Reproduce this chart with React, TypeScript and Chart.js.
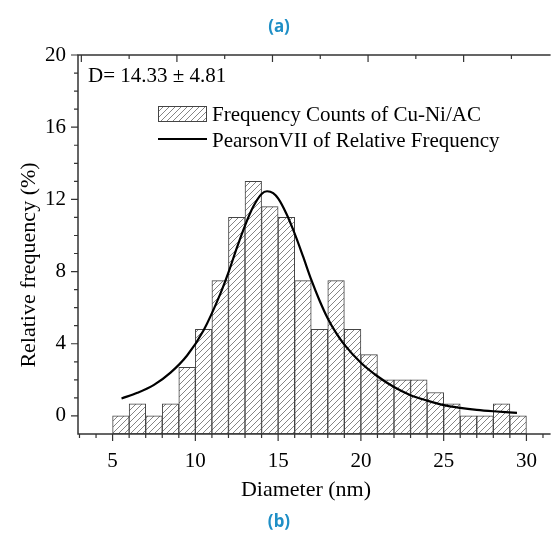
import React, { useEffect, useRef } from 'react';
import { Chart, registerables } from 'chart.js';

Chart.register(...registerables);

// ---- data ----
const binStarts = [5, 6, 7, 8, 9, 10, 11, 12, 13, 14, 15, 16, 17, 18, 19, 20, 21, 22, 23, 24, 25, 26, 27, 28, 29];
const relFreq = [0, 0.67, 0, 0.67, 2.7, 4.8, 7.5, 11, 13, 11.6, 11, 7.5, 4.8, 7.5, 4.8, 3.4, 2, 2, 2, 1.3, 0.67, 0, 0, 0.67, 0];

const curveX = [5.54, 6.5, 7.5, 8.5, 9.5, 10.5, 11.5, 12, 12.5, 13, 13.5, 14, 14.33, 14.7, 15, 15.5, 16, 16.5, 17, 17.5, 18, 18.5, 19, 20, 21, 22, 23, 24, 25, 26, 27, 28, 29.43];
const curveY = [0.97, 1.28, 1.72, 2.4, 3.35, 4.75, 6.75, 7.95, 9.3, 10.55, 11.6, 12.3, 12.45, 12.35, 12.05, 11.2, 10.1, 8.85, 7.55, 6.4, 5.4, 4.6, 3.95, 2.95, 2.2, 1.6, 1.15, 0.85, 0.6, 0.45, 0.34, 0.26, 0.17];

const xTickLabels = [5, 10, 15, 20, 25, 30];
const yTickLabels = [0, 4, 8, 12, 16, 20];
const xMinorTicks = [3, 4, 5, 6, 7, 8, 9, 10, 11, 12, 13, 14, 15, 16, 17, 18, 19, 20, 21, 22, 23, 24, 25, 26, 27, 28, 29, 30, 31];
const yMinorTicks = [0, 1, 2, 3, 4, 5, 6, 7, 8, 9, 10, 11, 12, 13, 14, 15, 16, 17, 18, 19, 20];
const topTicks = [0, 1, 2, 3, 4, 5, 6, 7, 8, 9];

const barLabel = 'Frequency Counts of Cu-Ni/AC';
const lineLabel = 'PearsonVII of Relative Frequency';
const statText = 'D= 14.33 \u00B1 4.81';
const xTitle = 'Diameter (nm)';
const yTitle = 'Relative frequency (%)';
const topCaption = '(a)';
const bottomCaption = '(b)';

const SERIF = '"Liberation Serif", "Times New Roman", serif';
const AXIS_COLOR = '#333';
const CAPTION_COLOR = '#1f8fc6';

function makeHatch(ctx: CanvasRenderingContext2D): CanvasPattern | string {
  const c = document.createElement('canvas');
  c.width = 6;
  c.height = 6;
  const g = c.getContext('2d');
  if (!g) return '#fff';
  g.fillStyle = '#fff';
  g.fillRect(0, 0, 6, 6);
  g.strokeStyle = '#666';
  g.lineWidth = 0.8;
  g.beginPath();
  g.moveTo(0, 6);
  g.lineTo(6, 0);
  g.moveTo(-1, 1);
  g.lineTo(1, -1);
  g.moveTo(5, 7);
  g.lineTo(7, 5);
  g.stroke();
  return ctx.createPattern(c, 'repeat') || '#fff';
}

export default function App() {
  const ref = useRef<HTMLCanvasElement>(null);

  useEffect(() => {
    const canvas = ref.current;
    if (!canvas) return;
    const ctx = canvas.getContext('2d');
    if (!ctx) return;
    const hatch = makeHatch(ctx);

    const decor = {
      id: 'decor',
      afterDraw(chart: any) {
        const c = chart.ctx as CanvasRenderingContext2D;
        const { left, top, right, bottom } = chart.chartArea;
        const xs = chart.scales.x;
        const ys = chart.scales.y;
        const x2 = chart.scales.x2;
        c.save();
        // frame
        c.strokeStyle = AXIS_COLOR;
        c.lineWidth = 1.5;
        c.beginPath();
        c.moveTo(left, top);
        c.lineTo(left, bottom);
        c.moveTo(left - 0.75, top);
        c.lineTo(right, top);
        c.moveTo(left - 0.75, bottom);
        c.lineTo(right, bottom);
        c.stroke();
        // bottom ticks (outward)
        c.lineWidth = 1.2;
        c.beginPath();
        xMinorTicks.forEach((v) => {
          const px = xs.getPixelForValue(v);
          const len = v % 5 === 0 ? 7 : 4;
          c.moveTo(px, bottom);
          c.lineTo(px, bottom + len);
        });
        // left ticks (outward)
        yMinorTicks.forEach((v) => {
          const py = ys.getPixelForValue(v);
          const len = v % 4 === 0 ? 7 : 4;
          c.moveTo(left, py);
          c.lineTo(left - len, py);
        });
        // top ticks (inward)
        topTicks.forEach((v) => {
          const px = x2.getPixelForValue(v);
          const len = v % 2 === 0 ? 7 : 4;
          c.moveTo(px, top);
          c.lineTo(px, top + len);
        });
        c.stroke();

        // statistics text
        c.fillStyle = '#000';
        c.font = `21px ${SERIF}`;
        c.textAlign = 'left';
        c.textBaseline = 'alphabetic';
        c.fillText(statText, 88, 82);

        // legend
        const bx = 158, by = 106, bw = 49, bh = 16;
        c.fillStyle = hatch as any;
        c.fillRect(bx, by, bw, bh);
        c.strokeStyle = '#444';
        c.lineWidth = 1;
        c.strokeRect(bx + 0.5, by + 0.5, bw - 1, bh - 1);
        c.strokeStyle = '#000';
        c.lineWidth = 2.2;
        c.beginPath();
        c.moveTo(bx, 139);
        c.lineTo(bx + bw, 139);
        c.stroke();
        c.fillStyle = '#000';
        c.font = `21px ${SERIF}`;
        c.fillText(barLabel, 212, 121);
        c.fillText(lineLabel, 212, 147);

        // axis titles
        c.font = `22px ${SERIF}`;
        c.textAlign = 'center';
        c.fillText(xTitle, 306, 496);
        c.save();
        c.translate(35, 265);
        c.rotate(-Math.PI / 2);
        c.fillText(yTitle, 0, 0);
        c.restore();

        // captions
        c.fillStyle = CAPTION_COLOR;
        c.font = `bold 17px "Noto Sans", "Open Sans", sans-serif`;
        c.textBaseline = 'middle';
        c.fillText(topCaption, 279, 27);
        c.fillText(bottomCaption, 279, 522);
        c.restore();
      },
    };

    const chart = new Chart(ctx, {
      type: 'bar',
      data: {
        datasets: [
          {
            type: 'line',
            label: lineLabel,
            data: curveX.map((x, i) => ({ x, y: curveY[i] })),
            borderColor: '#000',
            borderWidth: 2.2,
            pointRadius: 0,
            cubicInterpolationMode: 'monotone',
            fill: false,
            order: 0,
          } as any,
          {
            type: 'bar',
            label: barLabel,
            data: binStarts.map((b, i) => ({ x: b + 0.5, y: relFreq[i] })),
            base: -1,
            backgroundColor: hatch as any,
            borderColor: '#444',
            borderWidth: 1,
            borderSkipped: false,
            barPercentage: 1,
            categoryPercentage: 1,
            order: 1,
          } as any,
        ],
      },
      options: {
        animation: false,
        responsive: false,
        devicePixelRatio: 1,
        layout: { padding: { top: 55, left: 0, right: 0, bottom: 0 } },
        plugins: { legend: { display: false }, tooltip: { enabled: false } },
        scales: {
          x: {
            type: 'linear',
            position: 'bottom',
            offset: false,
            min: 2.91,
            max: 31.46,
            afterFit: (s: any) => {
              s.height = 104;
            },
            afterBuildTicks: (s: any) => {
              s.ticks = xTickLabels.map((v) => ({ value: v }));
            },
            grid: { display: false, drawTicks: false, offset: false },
            border: { display: false },
            ticks: {
              font: { family: SERIF, size: 21 },
              color: '#000',
              padding: 15,
              maxRotation: 0,
              autoSkip: false,
              callback: (v: any) => String(v),
            },
          },
          x2: {
            type: 'linear',
            position: 'top',
            display: false,
            offset: false,
            min: -0.07,
            max: 9.82,
          },
          y: {
            type: 'linear',
            min: -1,
            max: 20,
            afterFit: (s: any) => {
              s.width = 78;
            },
            afterBuildTicks: (s: any) => {
              s.ticks = yTickLabels.map((v) => ({ value: v }));
            },
            grid: { display: false, drawTicks: false },
            border: { display: false },
            ticks: {
              font: { family: SERIF, size: 21 },
              color: '#000',
              padding: 12,
              autoSkip: false,
              callback: (v: any) => String(v),
            },
          },
        } as any,
      },
      plugins: [decor],
    });

    return () => {
      chart.destroy();
    };
  }, []);

  return (
    <div style={{ position: 'fixed', left: 0, top: 0, width: 552, height: 538, background: '#fff' }}>
      <canvas ref={ref} width={552} height={538} style={{ width: 552, height: 538, display: 'block' }} />
    </div>
  );
}
